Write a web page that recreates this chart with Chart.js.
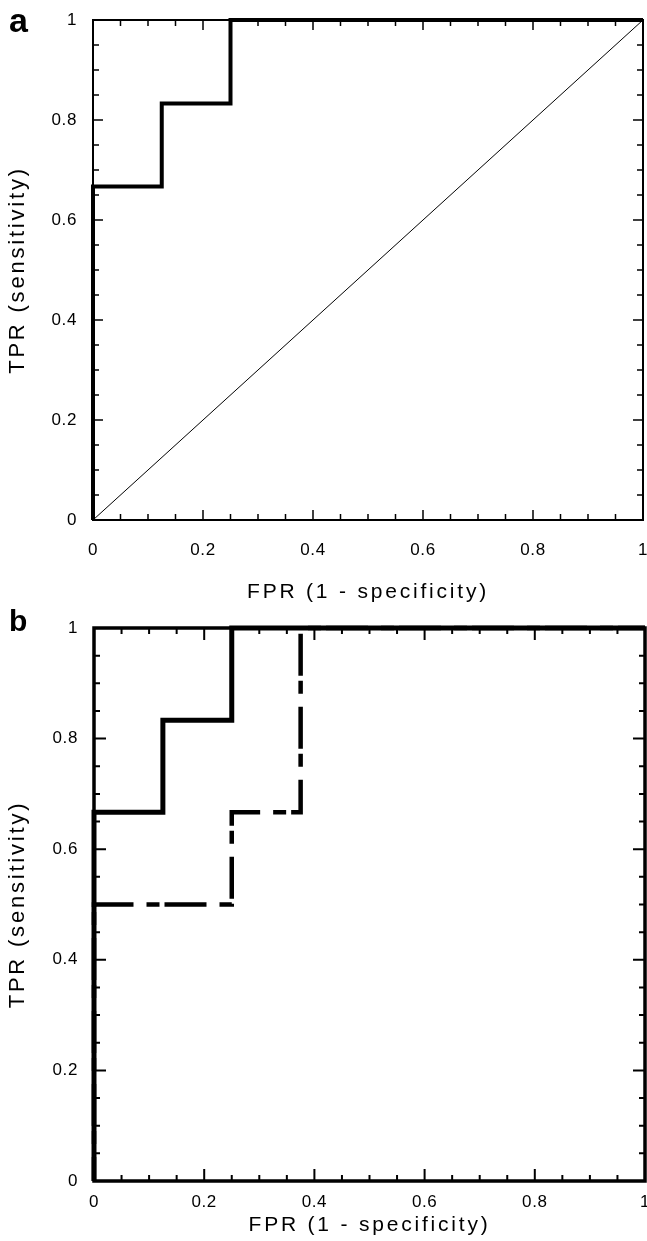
<!DOCTYPE html>
<html><head><meta charset="utf-8">
<script src="https://cdn.jsdelivr.net/npm/chart.js@4"></script>
<style>
html,body{margin:0;padding:0;background:#fff;}
body{width:647px;height:1241px;position:relative;overflow:hidden;font-family:"Liberation Sans",Arial,sans-serif;}
.panel{position:absolute;left:0;width:647px;}
.lab{position:absolute;font-weight:bold;line-height:1;color:#000;}
</style></head><body>
<div class="panel" style="top:0;height:610px"><canvas id="ca"></canvas></div>
<div class="panel" style="top:610px;height:631px"><canvas id="cb"></canvas></div>
<div class="lab" style="left:9px;top:3px;font-size:34px">a</div>
<div class="lab" style="left:9px;top:606px;font-size:30px">b</div>
<script>
// ---- data ----
const majorTicks = [0, 0.2, 0.4, 0.6, 0.8, 1];
const minorTicks = [0.05, 0.1, 0.15, 0.25, 0.3, 0.35, 0.45, 0.5, 0.55, 0.65, 0.7, 0.75, 0.85, 0.9, 0.95];

// panel a
const rocA_fpr = [0, 0, 0.125, 0.125, 0.25, 0.25, 1];
const rocA_tpr = [0, 0.667, 0.667, 0.833, 0.833, 1, 1];
const diag_fpr = [0, 1];
const diag_tpr = [0, 1];

// panel b
const rocB1_fpr = [0, 0, 0.125, 0.125, 0.25, 0.25, 1];
const rocB1_tpr = [0, 0.667, 0.667, 0.833, 0.833, 1, 1];
const rocB2_fpr = [0, 0, 0.25, 0.25, 0.375, 0.375, 1];
const rocB2_tpr = [0, 0.5, 0.5, 0.667, 0.667, 1, 1];

const xTitle = 'FPR (1 - specificity)';
const yTitle = 'TPR (sensitivity)';

// ---- helpers ----
const FAM = '"Liberation Sans", Arial, sans-serif';
const pts = (xs, ys) => xs.map((x, i) => ({x, y: ys[i]}));

const frameTicks = {
  id: 'frameTicks',
  beforeDatasetsDraw(chart, args, o) {
    const {ctx, chartArea: {left, right, top, bottom}, scales: {x, y}} = chart;
    ctx.save();
    ctx.strokeStyle = '#000';
    ctx.lineWidth = o.frameWidth;
    ctx.strokeRect(left, top, right - left, bottom - top);
    ctx.lineWidth = o.tickWidth;
    ctx.beginPath();
    const draw = (v, L) => {
      const px = x.getPixelForValue(v), py = y.getPixelForValue(v);
      ctx.moveTo(px, bottom); ctx.lineTo(px, bottom - L);
      ctx.moveTo(px, top); ctx.lineTo(px, top + L);
      ctx.moveTo(left, py); ctx.lineTo(left + L, py);
      ctx.moveTo(right, py); ctx.lineTo(right - L, py);
    };
    majorTicks.forEach(v => draw(v, o.major));
    minorTicks.forEach(v => draw(v, o.minor));
    ctx.stroke();
    ctx.restore();
  }
};

// letter spacing for the old-style wide text
const spacing = {
  id: 'spacing',
  beforeDraw(chart) {
    const ctx = chart.ctx;
    Object.values(chart.scales).forEach(s => {
      if (!s.__wrapped) {
        const dt = s.drawTitle.bind(s), dl = s.drawLabels.bind(s);
        s.drawTitle = function () { ctx.letterSpacing = '2.8px'; dt(); ctx.letterSpacing = '0px'; };
        s.drawLabels = function (a) { ctx.letterSpacing = '0.6px'; dl(a); ctx.letterSpacing = '0px'; };
        s.__wrapped = true;
      }
    });
  }
};

function scales(cfg) {
  return {
    x: {
      type: 'linear', min: 0, max: 1,
      afterBuildTicks: s => { s.ticks = majorTicks.map(v => ({value: v})); },
      afterFit: s => { s.height = cfg.xh; s.paddingLeft = 0; s.paddingRight = 0; },
      ticks: {callback: v => String(v), font: {family: FAM, size: 17}, color: '#000', padding: cfg.xpad, maxRotation: 0, autoSkip: false},
      grid: {display: false, drawTicks: false}, border: {display: false},
      title: {display: true, text: xTitle, font: {family: FAM, size: 21}, color: '#000', padding: {top: 0, bottom: cfg.xtpad}}
    },
    y: {
      type: 'linear', min: 0, max: 1,
      afterBuildTicks: s => { s.ticks = majorTicks.map(v => ({value: v})); },
      afterFit: s => { s.width = cfg.yw; s.paddingTop = 0; s.paddingBottom = 0; },
      ticks: {callback: v => String(v), font: {family: FAM, size: 17}, color: '#000', padding: 16, autoSkip: false},
      grid: {display: false, drawTicks: false}, border: {display: false},
      title: {display: true, text: yTitle, font: {family: FAM, size: 22}, color: '#000', padding: {top: 5, bottom: 0}}
    }
  };
}

const common = {pointRadius: 0, showLine: true, fill: false, tension: 0, clip: false, borderColor: '#000', backgroundColor: '#000', borderJoinStyle: 'miter'};

new Chart(document.getElementById('ca'), {
  type: 'scatter',
  data: {datasets: [
    {...common, data: pts(rocA_fpr, rocA_tpr), borderWidth: 4, order: 0},
    {...common, data: pts(diag_fpr, diag_tpr), borderWidth: 1, order: 1}
  ]},
  options: {
    responsive: true, maintainAspectRatio: false, animation: false, devicePixelRatio: 1,
    layout: {padding: {left: 0, right: 4, top: 20, bottom: 0}},
    plugins: {legend: {display: false}, tooltip: {enabled: false}, frameTicks: {frameWidth: 2, tickWidth: 1.5, major: 10, minor: 6}},
    scales: scales({xh: 90, xpad: 20, xtpad: 5, yw: 93})
  },
  plugins: [frameTicks, spacing]
});

new Chart(document.getElementById('cb'), {
  type: 'scatter',
  data: {datasets: [
    {...common, data: pts(rocB1_fpr, rocB1_tpr), borderWidth: 5, order: 0},
    {...common, data: pts(rocB2_fpr, rocB2_tpr), borderWidth: 4.5, borderDash: [42, 13, 13, 5], borderDashOffset: 18, order: 1}
  ]},
  options: {
    responsive: true, maintainAspectRatio: false, animation: false, devicePixelRatio: 1,
    layout: {padding: {left: 0, right: 2, top: 18, bottom: 0}},
    plugins: {legend: {display: false}, tooltip: {enabled: false}, frameTicks: {frameWidth: 3.5, tickWidth: 2, major: 12, minor: 6}},
    scales: scales({xh: 60, xpad: 11, xtpad: 3, yw: 94})
  },
  plugins: [frameTicks, spacing]
});
</script>
</body></html>
